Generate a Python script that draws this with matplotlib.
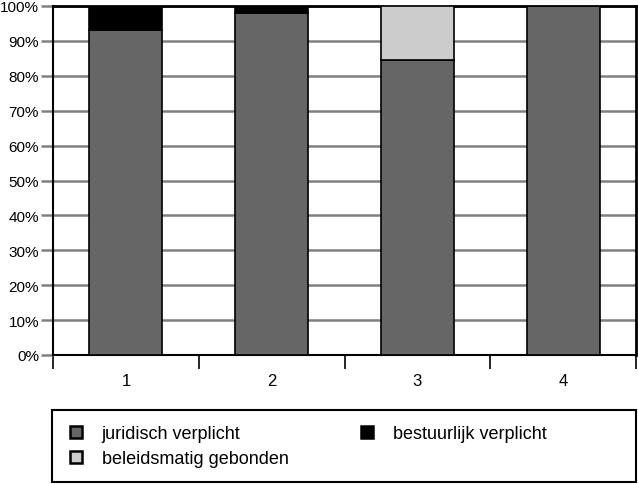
import matplotlib
matplotlib.use("Agg")
import matplotlib.pyplot as plt
from matplotlib.patches import Rectangle, Patch

plt.rcParams["font.family"] = ["Liberation Sans", "DejaVu Sans"]

categories = ["1", "2", "3", "4"]
juridisch = [93.0, 98.0, 84.5, 100.0]
bestuurlijk = [7.0, 2.0, 0.0, 0.0]
beleidsmatig = [0.0, 0.0, 15.5, 0.0]
yticks = [0, 10, 20, 30, 40, 50, 60, 70, 80, 90, 100]

c_jur = "#666666"
c_best = "#000000"
c_bel = "#cccccc"

fig = plt.figure(figsize=(6.38, 4.85), dpi=100)
ax = fig.add_axes([53 / 638, 1 - 356 / 485, 583 / 638, 349 / 485])

x = list(range(len(categories)))
ax.bar(x, juridisch, width=0.5, color=c_jur, edgecolor="black", linewidth=1.2, zorder=3)
ax.bar(x, bestuurlijk, width=0.5, bottom=juridisch, color=c_best, edgecolor="black", linewidth=1.2, zorder=3)
ax.bar(x, beleidsmatig, width=0.5, bottom=juridisch, color=c_bel, edgecolor="black", linewidth=1.2, zorder=3)

ax.set_xlim(-0.5, len(categories) - 0.5)
ax.set_ylim(0, 100)
ax.set_yticks(yticks)
ax.set_yticklabels([f"{v}%" for v in yticks], fontsize=11)
ax.yaxis.grid(True, color="#808080", linewidth=1.8, zorder=0)
ax.tick_params(axis="y", length=9, width=1.8, color="#808080", pad=1)

# category labels centred, ticks on the boundaries
ax.set_xticks([i - 0.5 for i in range(len(categories) + 1)])
ax.set_xticklabels([])
ax.set_xticks(x, minor=True)
ax.set_xticklabels(categories, minor=True, fontsize=12)
ax.tick_params(axis="x", which="major", direction="out", length=10, width=1.2)
ax.tick_params(axis="x", which="minor", length=0, pad=13)

for s in ax.spines.values():
    s.set_linewidth(1.5)
    s.set_color("black")
ax.spines["right"].set_linewidth(2)
ax.spines["top"].set_linewidth(2)

# legend box spanning the width below the chart
fig.patches.append(Rectangle((52 / 638, 2 / 485), 584 / 638, 72 / 485,
                             transform=fig.transFigure, fill=False,
                             edgecolor="black", linewidth=1.5))
h_jur = Patch(facecolor=c_jur, edgecolor="black", linewidth=1.8, label="juridisch verplicht")
h_bel = Patch(facecolor=c_bel, edgecolor="black", linewidth=1.8, label="beleidsmatig gebonden")
h_best = Patch(facecolor=c_best, edgecolor="black", linewidth=1.8, label="bestuurlijk verplicht")
leg_kw = dict(frameon=False, fontsize=13, loc="upper left",
              handlelength=0.65, handleheight=0.65, handletextpad=1.1,
              labelspacing=0.45, borderaxespad=0, borderpad=0)
fig.legend(handles=[h_jur, h_bel], bbox_to_anchor=(70 / 638, 1 - 426 / 485), **leg_kw)
fig.legend(handles=[h_best], bbox_to_anchor=(361 / 638, 1 - 426 / 485), **leg_kw)

fig.savefig("out.png", dpi=100)
